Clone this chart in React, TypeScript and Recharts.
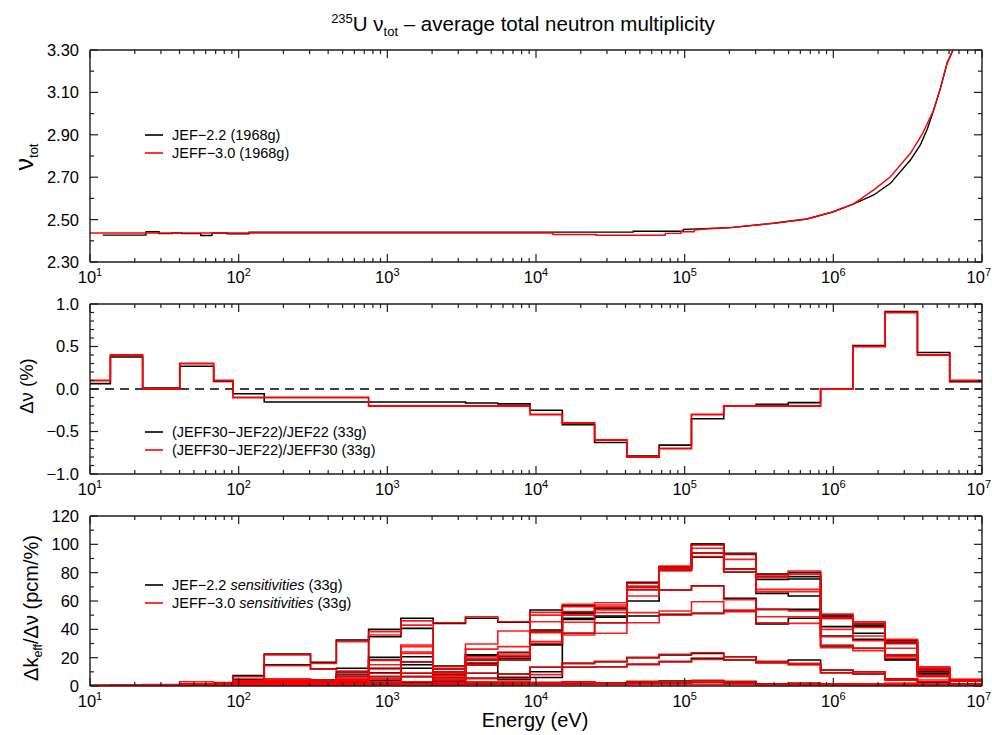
import React from 'react';
import { ComposedChart, Line, XAxis, YAxis, ReferenceLine } from 'recharts';

const FONT = '"Liberation Sans", Arial, Helvetica, sans-serif';
const AXIS_COLOR = '#1c1c1c';
const BLACK = '#000000';
const RED = '#ff0000';

// ---------- energy axis (eV) ----------
const energyDomain: [number, number] = [10, 1e7];
const energyDecades = [10, 100, 1000, 1e4, 1e5, 1e6, 1e7];
const decadeSubdivisions = [1, 2, 3, 4, 5, 6, 7, 8, 9];
const energyTicks = [
  ...energyDecades.slice(0, -1).flatMap((d) => decadeSubdivisions.map((m) => m * d)),
  1e7,
];

// ---------- value axes ----------
const nuTicks = [2.3, 2.4, 2.5, 2.6, 2.7, 2.8, 2.9, 3.0, 3.1, 3.2, 3.3];
const nuLabels = [2.3, 2.5, 2.7, 2.9, 3.1, 3.3];
const dNuTicks = [-1.0, -0.9, -0.8, -0.7, -0.6, -0.5, -0.4, -0.3, -0.2, -0.1, 0, 0.1, 0.2, 0.3, 0.4, 0.5, 0.6, 0.7, 0.8, 0.9, 1.0];
const dNuLabels = [-1.0, -0.5, 0, 0.5, 1.0];
const sensTicks = [0, 10, 20, 30, 40, 50, 60, 70, 80, 90, 100, 110, 120];
const sensLabels = [0, 20, 40, 60, 80, 100, 120];

// ---------- nu-tot, 1968-group libraries ----------
const nuJef22Energy = [12.18, 23.8, 23.8, 29.1, 29.1, 35.6, 35.6, 41.6, 41.6, 55.6, 55.6, 66.2, 66.2, 83.6, 83.6, 117.5, 117.5, 45100, 45100, 98000, 98000, 150000, 203000, 396000, 665000, 1.0e6, 1.37e6, 1.87e6, 2.42e6, 3.3e6, 3.85e6, 4.3e6, 4.73e6, 5.25e6, 5.82e6, 6.38e6, 7.0e6];
const nuJef22Value = [2.427, 2.427, 2.443, 2.443, 2.434, 2.434, 2.437, 2.437, 2.434, 2.434, 2.425, 2.425, 2.437, 2.437, 2.433, 2.433, 2.441, 2.441, 2.445, 2.445, 2.454, 2.458, 2.462, 2.483, 2.503, 2.537, 2.574, 2.616, 2.671, 2.781, 2.852, 2.93, 3.017, 3.119, 3.237, 3.30, 3.42];
const nuJeff30Energy = [10, 13000, 13000, 25400, 25400, 74000, 74000, 94400, 94400, 116000, 116000, 150000, 203000, 396000, 665000, 1.0e6, 1.37e6, 1.87e6, 2.42e6, 3.3e6, 3.99e6, 4.73e6, 5.25e6, 5.82e6, 6.38e6, 7.0e6];
const nuJeff30Value = [2.437, 2.437, 2.430, 2.430, 2.426, 2.426, 2.435, 2.435, 2.443, 2.443, 2.451, 2.458, 2.462, 2.483, 2.503, 2.537, 2.574, 2.640, 2.702, 2.813, 2.907, 3.017, 3.119, 3.237, 3.30, 3.42];

// ---------- 33-group structure: lower bounds above 10 eV, plus 10 MeV ----------
const groupBounds = [10, 13.71, 22.6, 40.17, 67.9, 91.66, 148.6, 304.3, 454.0, 748.5, 1234.1, 2034.7, 3354.6, 5530.8, 9118.8, 15034, 24788, 40868, 67379, 111090, 183156, 301974, 497871, 820850, 1353353, 2231302, 3678794, 6065307, 1e7];

// relative nu difference (%) per group
const dNuRelJef22 = [0.063, 0.376, 0.01, 0.267, 0.09, -0.055, -0.153, -0.153, -0.153, -0.153, -0.153, -0.153, -0.165, -0.175, -0.25, -0.42, -0.63, -0.79, -0.66, -0.35, -0.2, -0.18, -0.16, 0.0, 0.51, 0.91, 0.43, 0.086];
const dNuRelJeff30 = [0.1, 0.4, 0.0, 0.3, 0.1, -0.1, -0.1, -0.1, -0.1, -0.2, -0.2, -0.2, -0.2, -0.2, -0.3, -0.4, -0.6, -0.8, -0.7, -0.3, -0.2, -0.2, -0.2, 0.0, 0.5, 0.9, 0.4, 0.1];

// ---------- k-eff sensitivities to nu (pcm/%) per group ----------
const sensJef22_1 = [0.3, 0.4, 0.8, 1.5, 2.0, 7.3, 22.6, 16.7, 32.5, 40.0, 47.8, 44.2, 47.8, 45.0, 53.6, 56.7, 55.5, 73.2, 84.2, 100.2, 93.6, 79.0, 80.0, 50.1, 44.2, 32.0, 12.5, 4.2];
const sensJef22_2 = [0.2, 0.3, 0.6, 1.2, 1.6, 4.7, 15.0, 12.0, 12.5, 34.8, 40.7, 14.0, 22.0, 23.5, 39.5, 52.0, 55.0, 72.8, 83.8, 100.0, 92.8, 77.2, 77.2, 49.0, 43.0, 31.0, 11.5, 4.0];
const sensJef22_3 = [0.2, 0.25, 0.4, 0.9, 1.2, 3.3, 4.0, 4.2, 10.0, 20.2, 20.7, 12.0, 21.9, 21.0, 38.4, 51.0, 54.5, 70.0, 82.5, 94.0, 82.5, 75.3, 75.5, 48.0, 42.0, 30.0, 11.0, 3.8];
const sensJef22_4 = [0.15, 0.2, 0.3, 0.6, 0.8, 2.0, 3.5, 3.5, 8.0, 18.4, 17.0, 10.0, 18.4, 19.5, 29.6, 47.8, 49.4, 68.0, 81.5, 91.0, 80.5, 65.4, 63.5, 41.9, 37.2, 21.9, 10.1, 4.2];
const sensJef22_5 = [0.1, 0.15, 0.25, 0.5, 0.6, 1.5, 3.0, 3.0, 6.6, 12.5, 15.0, 8.0, 16.0, 18.4, 29.0, 47.0, 48.5, 60.0, 67.8, 70.8, 61.9, 54.1, 54.1, 35.3, 32.9, 18.8, 8.9, 4.0];
const sensJef22_6 = [0.1, 0.1, 0.2, 0.4, 0.5, 1.2, 2.5, 2.5, 4.2, 9.4, 12.5, 6.1, 14.8, 8.5, 13.2, 37.2, 44.7, 49.4, 50.6, 51.3, 52.9, 43.8, 47.8, 28.2, 26.6, 18.4, 7.8, 3.5];
const sensJef22_7 = [0.1, 0.1, 0.15, 0.3, 0.3, 0.8, 2.0, 2.0, 3.0, 6.6, 9.0, 4.0, 9.0, 6.1, 10.1, 16.0, 17.2, 20.0, 22.0, 23.0, 20.7, 17.2, 18.4, 11.3, 10.1, 5.0, 3.0, 1.5];
const sensJef22_8 = [0.05, 0.05, 0.1, 0.2, 0.2, 0.5, 1.5, 1.5, 2.0, 4.0, 6.6, 3.0, 5.4, 4.5, 6.0, 13.2, 13.6, 15.3, 17.2, 19.5, 18.4, 16.5, 15.3, 9.4, 8.5, 4.2, 2.5, 1.4];
const sensJef22_9 = [0.05, 0.05, 0.05, 0.1, 0.1, 0.3, 1.0, 1.0, 1.2, 2.0, 2.5, 1.5, 2.0, 2.0, 2.4, 3.0, 2.0, 3.1, 3.5, 3.8, 3.1, 1.5, 1.9, 1.5, 1.2, 0.8, 0.5, 0.3];
const sensJef22_10 = [0, 0, 0, 0.05, 0.05, 0.2, 0.5, 0.5, 0.5, 0.8, 1.0, 0.8, 1.0, 1.0, 1.2, 1.5, 1.5, 2.0, 2.0, 2.5, 2.0, 1.0, 1.0, 0.8, 0.6, 0.4, 0.3, 0.2];

const sensJeff30_1 = [0.5, 0.6, 1.0, 3.0, 2.4, 6.6, 22.0, 16.0, 31.3, 38.4, 46.0, 44.7, 48.9, 45.4, 52.0, 57.6, 58.8, 72.5, 84.7, 99.5, 93.2, 78.4, 81.2, 50.8, 45.4, 32.9, 13.6, 4.7];
const sensJeff30_2 = [0.4, 0.5, 0.8, 1.5, 1.8, 4.0, 14.4, 11.8, 10.5, 36.0, 43.0, 13.6, 29.6, 38.8, 50.0, 56.0, 57.2, 70.6, 83.8, 97.2, 89.4, 77.0, 79.0, 48.5, 44.0, 31.3, 12.5, 4.5];
const sensJeff30_3 = [0.3, 0.4, 0.6, 1.2, 1.4, 3.0, 5.0, 4.0, 8.5, 18.0, 28.9, 12.0, 26.0, 27.8, 45.4, 52.5, 55.5, 70.0, 82.5, 94.1, 82.4, 68.2, 68.2, 47.5, 41.4, 30.0, 12.0, 4.3];
const sensJeff30_4 = [0.3, 0.3, 0.5, 1.0, 1.2, 2.4, 4.0, 3.4, 6.6, 15.0, 27.8, 10.0, 20.7, 24.0, 38.4, 50.0, 53.6, 68.0, 81.4, 91.3, 80.7, 66.6, 66.6, 40.0, 35.3, 26.6, 11.0, 4.2];
const sensJeff30_5 = [0.2, 0.3, 0.4, 0.8, 1.0, 2.0, 3.4, 2.8, 5.0, 12.0, 24.0, 9.0, 19.5, 21.9, 37.6, 45.0, 51.8, 63.5, 67.8, 70.6, 61.0, 54.1, 53.0, 34.8, 32.0, 21.9, 7.8, 4.0];
const sensJeff30_6 = [0.2, 0.2, 0.3, 0.6, 0.8, 1.6, 2.8, 2.2, 4.0, 9.0, 23.0, 7.5, 16.5, 20.5, 31.3, 37.2, 44.7, 51.8, 52.9, 59.5, 53.6, 48.9, 48.9, 28.9, 26.6, 20.7, 7.0, 3.8];
const sensJeff30_7 = [0.2, 0.2, 0.3, 0.5, 0.6, 1.2, 2.2, 1.8, 3.0, 6.6, 17.0, 6.1, 14.8, 18.4, 30.0, 36.0, 37.2, 44.7, 50.0, 51.3, 52.5, 44.7, 44.2, 27.0, 25.0, 19.5, 6.5, 3.5];
const sensJeff30_8 = [0.1, 0.1, 0.2, 0.3, 0.4, 0.8, 1.6, 1.4, 2.2, 5.0, 9.0, 5.0, 9.0, 8.5, 13.2, 16.0, 17.2, 20.0, 22.4, 23.5, 20.7, 17.2, 16.0, 11.3, 10.1, 5.0, 4.2, 1.4];
const sensJeff30_9 = [0.1, 0.1, 0.1, 0.2, 0.3, 0.5, 1.0, 1.0, 1.5, 3.0, 6.6, 4.0, 5.4, 5.4, 8.0, 13.2, 13.6, 15.3, 17.2, 18.8, 18.4, 16.5, 15.0, 9.4, 8.5, 4.2, 3.0, 1.2];
const sensJeff30_10 = [0.1, 0.1, 0.1, 0.1, 0.2, 0.3, 0.8, 0.6, 1.0, 2.0, 3.0, 2.5, 3.0, 3.0, 2.4, 3.0, 1.9, 3.1, 3.0, 3.8, 3.1, 1.4, 1.9, 1.5, 1.5, 2.0, 1.5, 0.8];
const sensJeff30_11 = [0, 0, 0, 0.1, 0.1, 0.2, 0.5, 0.4, 0.5, 1.0, 1.5, 1.5, 2.0, 2.0, 2.0, 2.0, 1.5, 2.0, 2.0, 2.5, 2.0, 1.2, 1.2, 1.0, 1.0, 0.8, 0.5, 0.3];
const sensJeff30_12 = [0, 0, 0, 0, 0, 0.1, 0.3, 0.2, 0.3, 0.5, 0.8, 0.8, 1.0, 1.0, 1.0, 1.0, 1.0, 1.0, 1.0, 1.0, 1.0, 0.8, 0.8, 0.5, 0.5, 0.4, 0.3, 0.2];

const sensJef22 = [sensJef22_1, sensJef22_2, sensJef22_3, sensJef22_4, sensJef22_5, sensJef22_6, sensJef22_7, sensJef22_8, sensJef22_9, sensJef22_10];
const sensJeff30 = [sensJeff30_1, sensJeff30_2, sensJeff30_3, sensJeff30_4, sensJeff30_5, sensJeff30_6, sensJeff30_7, sensJeff30_8, sensJeff30_9, sensJeff30_10, sensJeff30_11, sensJeff30_12];

// ---------- helpers ----------
type Pt = { e: number; v: number };
const curvePoints = (es: number[], vs: number[]): Pt[] => es.map((e, i) => ({ e, v: vs[i] }));
const groupPoints = (vals: number[]): Pt[] =>
  groupBounds.map((e, i) => ({ e, v: vals[Math.min(i, vals.length - 1)] }));

const near = (a: number, b: number) => Math.abs(a - b) < 1e-6 * Math.max(1, Math.abs(b));
const isDecade = (v: number) => {
  const l = Math.log10(v);
  return Math.abs(l - Math.round(l)) < 1e-6;
};
const minus = (s: string) => s.replace('-', '\u2212');

const MAJOR = 8;
const MINOR = 4;
const TICK_FONT = 16.5;

const BottomEnergyTick = (props: any) => {
  const { x, y, payload } = props;
  const v = payload.value as number;
  const major = isDecade(v);
  const last = near(v, energyDomain[1]);
  return (
    <g>
      <line x1={x} y1={y} x2={x} y2={y - (major ? MAJOR : MINOR)} stroke={AXIS_COLOR} strokeWidth={1.2} />
      {major && (
        <text
          x={last ? 991 : x}
          y={y + 21}
          textAnchor={last ? 'end' : 'middle'}
          fontSize={TICK_FONT}
          fontFamily={FONT}
          fill="#000"
        >
          10
          <tspan dy={-7} fontSize={11}>
            {Math.round(Math.log10(v))}
          </tspan>
        </text>
      )}
    </g>
  );
};

const TopEnergyTick = (props: any) => {
  const { x, y, payload } = props;
  const major = isDecade(payload.value as number);
  return <line x1={x} y1={y} x2={x} y2={y + (major ? MAJOR : MINOR)} stroke={AXIS_COLOR} strokeWidth={1.2} />;
};

function makeLeftTick(labels: number[], fmt: (v: number) => string) {
  return (props: any) => {
    const { x, y, payload } = props;
    const v = payload.value as number;
    const major = labels.some((l) => near(l, v));
    return (
      <g>
        <line x1={x} y1={y} x2={x + (major ? MAJOR : MINOR)} y2={y} stroke={AXIS_COLOR} strokeWidth={1.2} />
        {major && (
          <text x={x - 11} y={y} dy="0.36em" textAnchor="end" fontSize={TICK_FONT} fontFamily={FONT} fill="#000">
            {fmt(v)}
          </text>
        )}
      </g>
    );
  };
}

function makeRightTick(labels: number[]) {
  return (props: any) => {
    const { x, y, payload } = props;
    const major = labels.some((l) => near(l, payload.value as number));
    return <line x1={x} y1={y} x2={x - (major ? MAJOR : MINOR)} y2={y} stroke={AXIS_COLOR} strokeWidth={1.2} />;
  };
}

const frameLine = { stroke: AXIS_COLOR, strokeWidth: 1.4 };

type PanelProps = {
  top: number;
  height: number;
  plotTop: number;
  xAxisHeight: number;
  yDomain: [number, number];
  yTicks: number[];
  yLabels: number[];
  yFormat: (v: number) => string;
  children: React.ReactNode;
};

function Panel({ top, height, plotTop, xAxisHeight, yDomain, yTicks, yLabels, yFormat, children }: PanelProps) {
  return (
    <div style={{ position: 'absolute', left: 0, top }}>
      <ComposedChart width={992} height={height} margin={{ top: plotTop - top - 1, right: 9, bottom: 0, left: 40 }}>
        <XAxis
          xAxisId="b"
          dataKey="e"
          type="number"
          scale="log"
          domain={energyDomain}
          allowDataOverflow
          ticks={energyTicks}
          interval={0}
          tickSize={0}
          tickMargin={0}
          tickLine={false}
          height={xAxisHeight}
          axisLine={frameLine}
          tick={BottomEnergyTick}
        />
        <XAxis
          xAxisId="t"
          orientation="top"
          dataKey="e"
          type="number"
          scale="log"
          domain={energyDomain}
          allowDataOverflow
          ticks={energyTicks}
          interval={0}
          tickSize={0}
          tickMargin={0}
          tickLine={false}
          height={1}
          axisLine={frameLine}
          tick={TopEnergyTick}
        />
        <YAxis
          yAxisId="l"
          type="number"
          domain={yDomain}
          allowDataOverflow
          ticks={yTicks}
          interval={0}
          tickSize={0}
          tickMargin={0}
          tickLine={false}
          width={50}
          axisLine={frameLine}
          tick={makeLeftTick(yLabels, yFormat)}
        />
        <YAxis
          yAxisId="r"
          orientation="right"
          type="number"
          domain={yDomain}
          allowDataOverflow
          ticks={yTicks}
          interval={0}
          tickSize={0}
          tickMargin={0}
          tickLine={false}
          width={1}
          axisLine={frameLine}
          tick={makeRightTick(yLabels)}
        />
        {children}
      </ComposedChart>
    </div>
  );
}

const LegendRow = ({ y, color, label }: { y: number; color: string; label: React.ReactNode }) => (
  <g>
    <line x1={145} x2={163} y1={y} y2={y} stroke={color} strokeWidth={1.6} />
    <text x={172} y={y} dy="0.36em" fontSize={14.5} fontFamily={FONT} fill="#000">
      {label}
    </text>
  </g>
);

export default function App() {
  const topLines = [
    <Line key="j22" xAxisId="b" yAxisId="l" data={curvePoints(nuJef22Energy, nuJef22Value)} dataKey="v" type="linear" stroke={BLACK} strokeWidth={1.4} dot={false} activeDot={false} isAnimationActive={false} />,
    <Line key="j30" xAxisId="b" yAxisId="l" data={curvePoints(nuJeff30Energy, nuJeff30Value)} dataKey="v" type="linear" stroke={RED} strokeWidth={1.4} dot={false} activeDot={false} isAnimationActive={false} />,
  ];

  const midLines = [
    <ReferenceLine key="zero" xAxisId="b" yAxisId="l" y={0} stroke="#000" strokeWidth={1.4} strokeDasharray="9 6" />,
    <Line key="d22" xAxisId="b" yAxisId="l" data={groupPoints(dNuRelJef22)} dataKey="v" type="stepAfter" stroke={BLACK} strokeWidth={1.6} dot={false} activeDot={false} isAnimationActive={false} />,
    <Line key="d30" xAxisId="b" yAxisId="l" data={groupPoints(dNuRelJeff30)} dataKey="v" type="stepAfter" stroke={RED} strokeWidth={1.8} dot={false} activeDot={false} isAnimationActive={false} />,
  ];

  const sensLines = [
    ...sensJef22.map((vals, i) => (
      <Line key={`s22-${i}`} xAxisId="b" yAxisId="l" data={groupPoints(vals)} dataKey="v" type="stepAfter" stroke={BLACK} strokeWidth={1.6} dot={false} activeDot={false} isAnimationActive={false} />
    )),
    ...sensJeff30.map((vals, i) => (
      <Line key={`s30-${i}`} xAxisId="b" yAxisId="l" data={groupPoints(vals)} dataKey="v" type="stepAfter" stroke={RED} strokeWidth={1.6} strokeOpacity={0.9} dot={false} activeDot={false} isAnimationActive={false} />
    )),
  ];

  return (
    <div style={{ position: 'absolute', left: 0, top: 0, width: 992, height: 735, background: '#fff', overflow: 'hidden' }}>
      <Panel top={0} height={290} plotTop={50} xAxisHeight={28} yDomain={[2.3, 3.3]} yTicks={nuTicks} yLabels={nuLabels} yFormat={(v) => v.toFixed(2)}>
        {topLines}
      </Panel>
      <Panel top={280} height={220} plotTop={304} xAxisHeight={26} yDomain={[-1, 1]} yTicks={dNuTicks} yLabels={dNuLabels} yFormat={(v) => minus(v.toFixed(1))}>
        {midLines}
      </Panel>
      <Panel top={490} height={245} plotTop={516} xAxisHeight={49} yDomain={[0, 120]} yTicks={sensTicks} yLabels={sensLabels} yFormat={(v) => String(v)}>
        {sensLines}
      </Panel>

      <svg width={992} height={735} style={{ position: 'absolute', left: 0, top: 0, pointerEvents: 'none' }} fontFamily={FONT}>
        <text x={523} y={31} textAnchor="middle" fontSize={20.5} fill="#000" style={{ whiteSpace: 'pre' }}>
          <tspan fontSize={13} dy={-8}>235</tspan>
          <tspan dy={8}>U ν</tspan>
          <tspan fontSize={13} dy={5}>tot</tspan>
          <tspan dy={-5}> – average total neutron multiplicity</tspan>
        </text>

        <text transform="translate(33,157) rotate(-90)" textAnchor="middle" fontSize={25} fill="#000">
          ν<tspan fontSize={13} dy={5}>tot</tspan>
        </text>
        <text transform="translate(33,386) rotate(-90)" textAnchor="middle" fontSize={18.5} fill="#000">
          Δν (%)
        </text>
        <text transform="translate(38,608) rotate(-90)" textAnchor="middle" fontSize={20} fill="#000">
          Δk<tspan fontSize={12.5} dy={4}>eff</tspan>
          <tspan dy={-4}>/Δν (pcm/%)</tspan>
        </text>

        <text x={535} y={727} textAnchor="middle" fontSize={20} fill="#000">
          Energy (eV)
        </text>

        <LegendRow y={135} color={BLACK} label="JEF−2.2 (1968g)" />
        <LegendRow y={153} color={RED} label="JEFF−3.0 (1968g)" />
        <LegendRow y={432} color={BLACK} label="(JEFF30−JEF22)/JEF22 (33g)" />
        <LegendRow y={450} color={RED} label="(JEFF30−JEF22)/JEFF30 (33g)" />
        <LegendRow
          y={585}
          color={BLACK}
          label={
            <>
              JEF−2.2 <tspan fontStyle="italic">sensitivities</tspan> (33g)
            </>
          }
        />
        <LegendRow
          y={603}
          color={RED}
          label={
            <>
              JEFF−3.0 <tspan fontStyle="italic">sensitivities</tspan> (33g)
            </>
          }
        />
      </svg>
    </div>
  );
}
